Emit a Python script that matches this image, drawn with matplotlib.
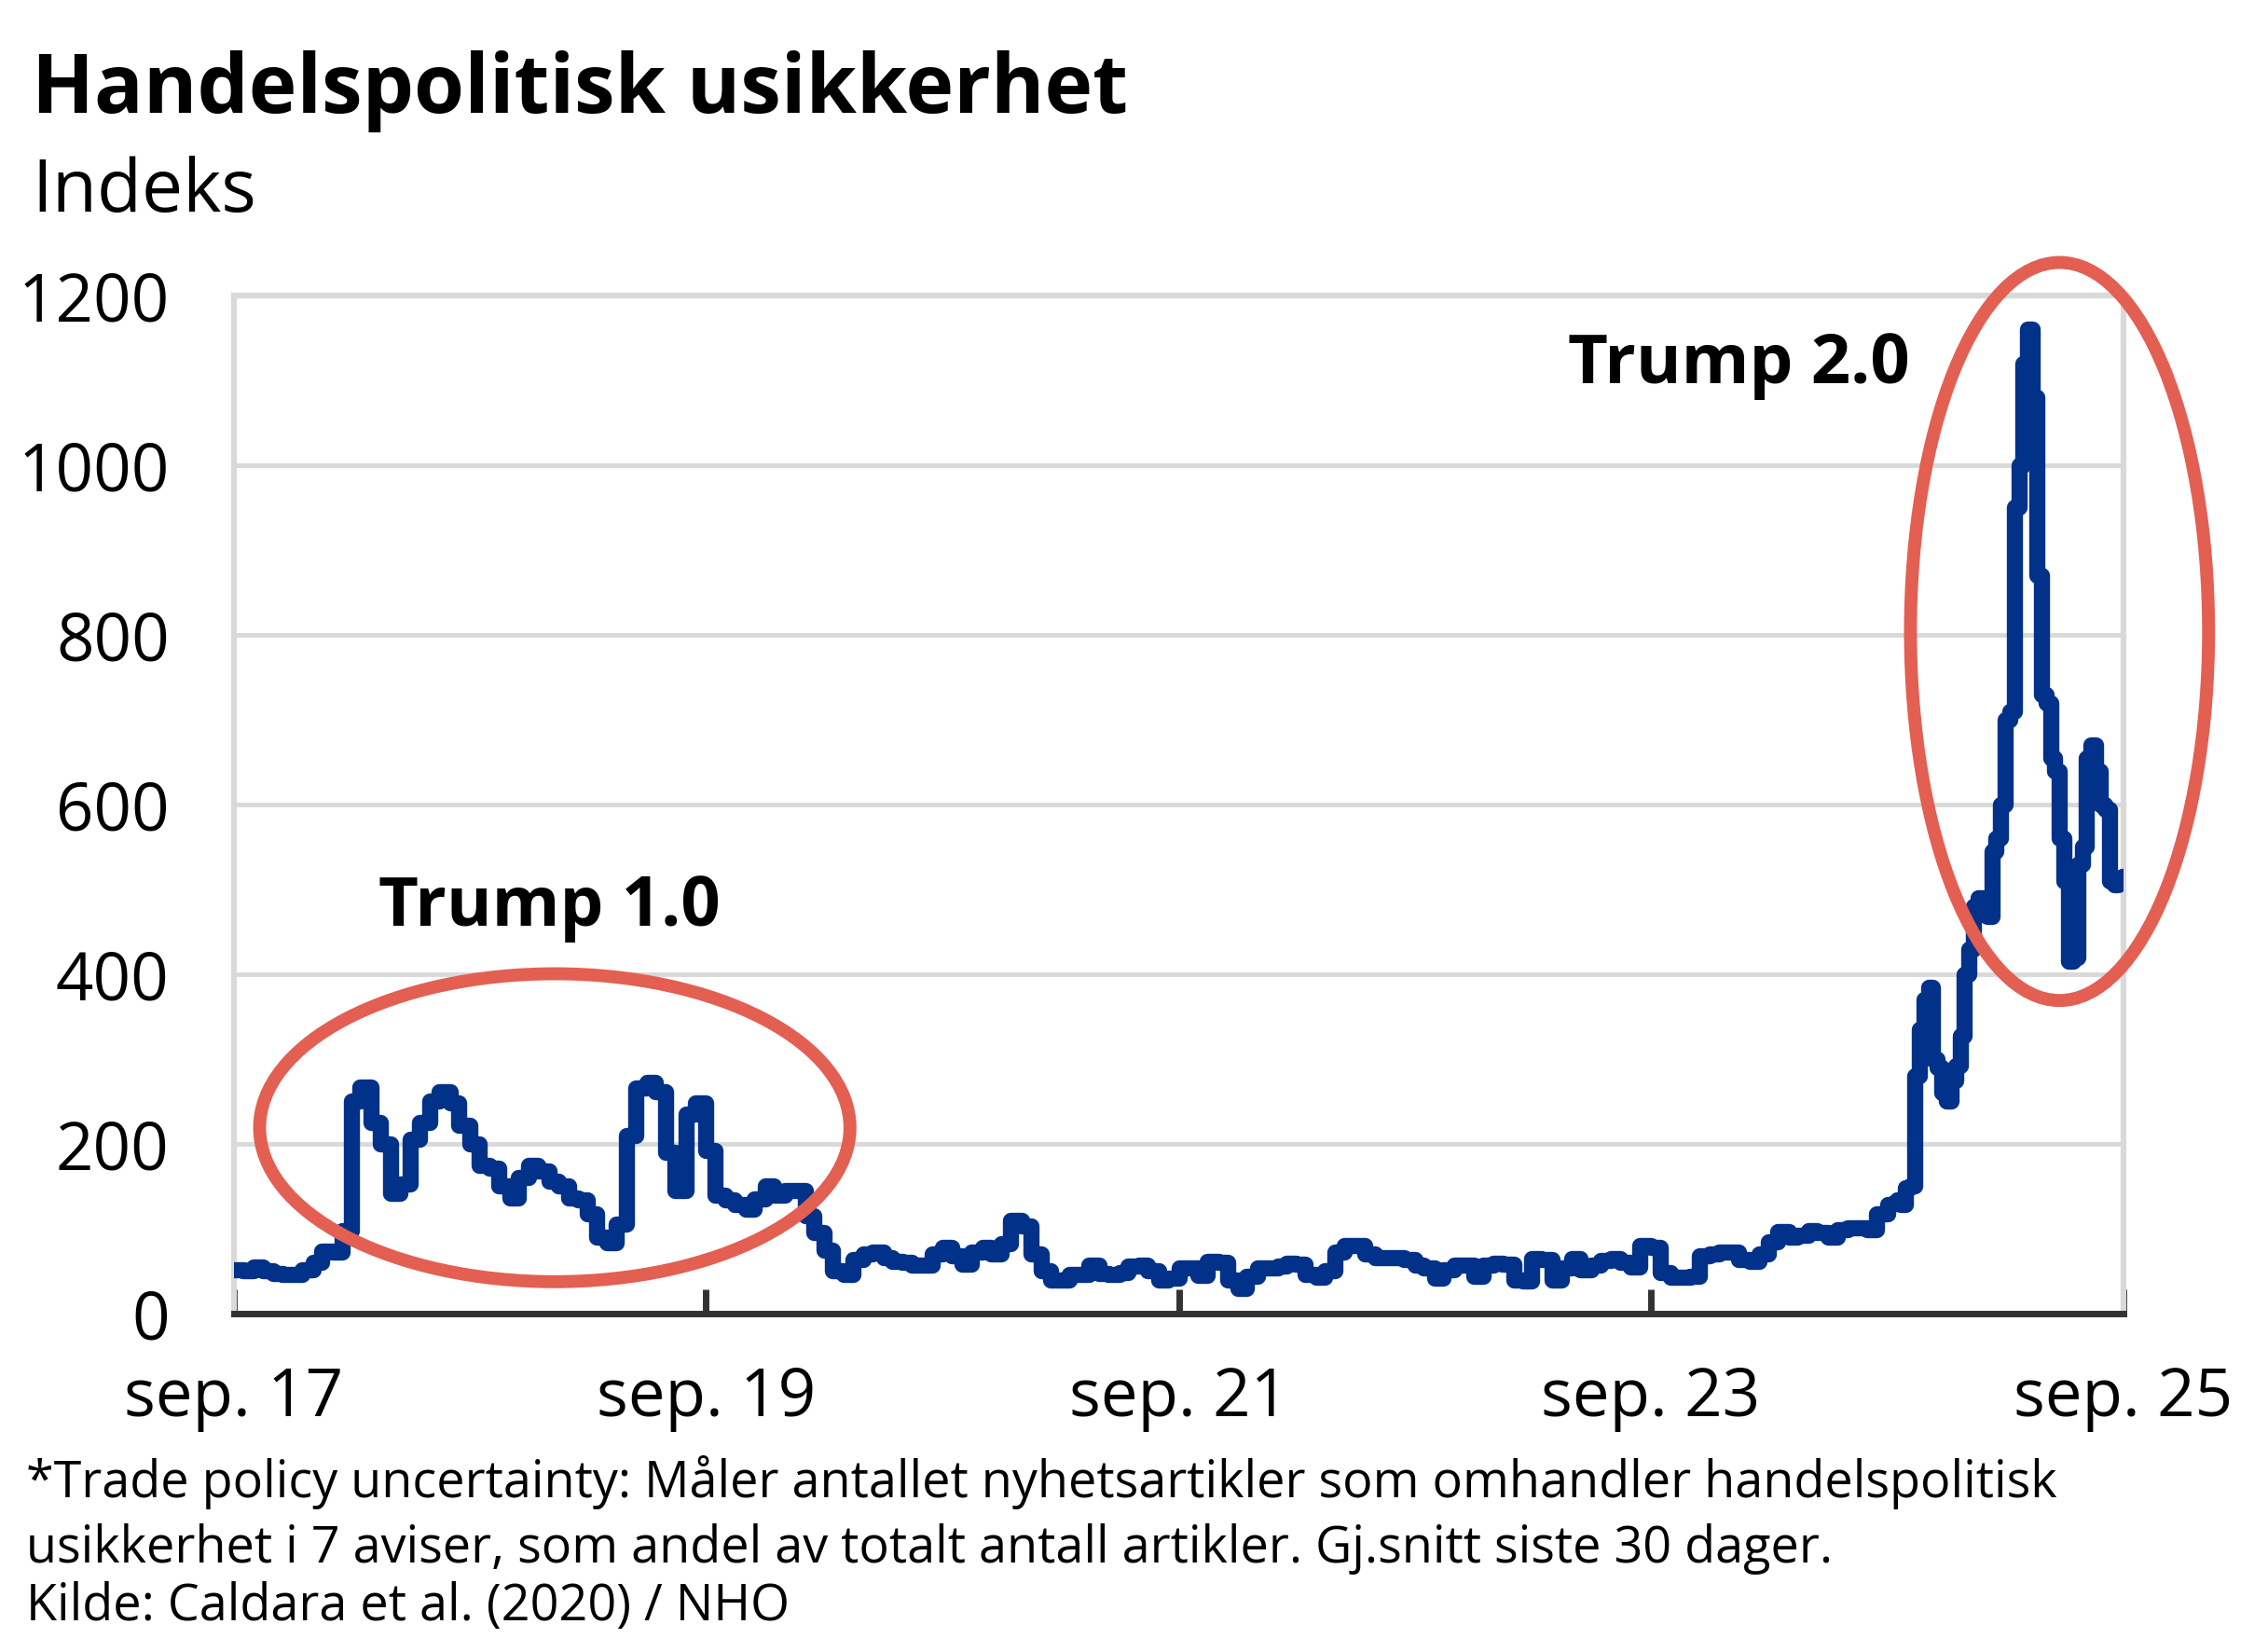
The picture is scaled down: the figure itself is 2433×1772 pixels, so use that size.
import numpy as np
import pandas as pd
import matplotlib
matplotlib.use("Agg")
import matplotlib.pyplot as plt
import matplotlib.dates as mdates
from matplotlib.patches import Ellipse

plt.rcParams['font.family'] = ['Open Sans', 'DejaVu Sans']

# halvmånedlige verdier sep. 2017 - aug. 2024
verdier_a = [52, 50, 55, 50, 47, 46, 46, 52, 60, 74,
             72, 98, 250, 267, 225, 200, 142, 153, 205, 225,
             251, 262, 248, 222, 200, 175, 171, 150, 136, 160,
             175, 168, 156, 150, 136, 134, 118, 90, 83, 105,
             210, 266, 273, 262, 190, 145, 235, 248, 192, 140,
             134, 128, 123, 135, 150, 140, 145, 145, 115, 95,
             75, 50, 46, 64, 70, 72, 66, 62, 60, 57,
             57, 70, 78, 68, 58, 72, 78, 70, 82, 110,
             103, 70, 50, 40, 39, 46, 46, 57, 47, 46,
             48, 56, 57, 50, 39, 42, 54, 54, 45, 62,
             60, 40, 30, 44, 54, 54, 56, 59, 58, 46,
             43, 50, 72, 80, 80, 70, 66, 66, 66, 64,
             57, 54, 42, 52, 57, 57, 44, 57, 59, 58,
             40, 38, 65, 64, 40, 54, 65, 52, 57, 63,
             65, 60, 55, 80, 78, 48, 43, 43, 44, 68,
             70, 72, 72, 64, 62, 70, 85, 97, 90, 92,
             98, 95, 90, 99, 101, 101, 99, 118]
# ukentlige verdier sep. 2024 - aug. 2025
verdier_b = [128, 130, 134, 128, 148, 150, 280, 335, 370, 385,
             300, 290, 260, 250, 275, 292, 327, 400, 430, 480,
             490, 470, 468, 545, 560, 600, 700, 710, 950, 1000,
             1120, 1160, 1080, 870, 730, 720, 655, 640, 560, 510,
             415, 420, 530, 550, 655, 670, 640, 600, 595, 510,
             505, 510, 515]

datoer_a = pd.date_range('2017-09-01', periods=len(verdier_a), freq='SMS')
datoer_b = pd.date_range('2024-09-01', periods=len(verdier_b), freq='7D')
datoer = datoer_a.append(datoer_b)
verdier = verdier_a + verdier_b

xticks = pd.to_datetime(['2017-09-01', '2019-09-01', '2021-09-01', '2023-09-01', '2025-09-01'])
xlabels = ['sep. 17', 'sep. 19', 'sep. 21', 'sep. 23', 'sep. 25']
yticks = [0, 200, 400, 600, 800, 1000, 1200]

blaa = '#02318A'
roed = '#E35F52'
graa = '#D9D9D9'

fig = plt.figure(figsize=(24.33, 17.72), dpi=100)
ax = fig.add_axes([0.1032, 0.2049, 0.8331, 0.6162])

ax.plot(datoer, verdier, color=blaa, lw=12.5, drawstyle='steps-post',
        solid_joinstyle='round', solid_capstyle='round', zorder=3)

ax.set_xlim(xticks[0], xticks[-1])
ax.set_ylim(0, 1200)
ax.set_yticks(yticks)
ax.set_xticks(xticks)
ax.set_xticklabels(xlabels)
ax.grid(axis='y', color=graa, lw=3.5, zorder=0)
ax.tick_params(axis='y', length=0, pad=50, labelsize=51)
ax.tick_params(axis='x', direction='in', length=19, width=5, color='#333333',
               pad=40, labelsize=51)

for s in ['left', 'right', 'top']:
    ax.spines[s].set_color(graa)
    ax.spines[s].set_linewidth(4.5)
ax.spines['bottom'].set_color('#333333')
ax.spines['bottom'].set_linewidth(5)

# ellipser rundt periodene
e1 = Ellipse((mdates.date2num(pd.Timestamp('2019-01-10')), 219), width=913, height=363,
             fill=False, edgecolor=roed, lw=10, clip_on=False, zorder=4)
e2 = Ellipse((mdates.date2num(pd.Timestamp('2025-05-25')), 804), width=461, height=870,
             fill=False, edgecolor=roed, lw=10, clip_on=False, zorder=4)
ax.add_patch(e1)
ax.add_patch(e2)

ax.text(pd.Timestamp('2019-01-01'), 457, 'Trump 1.0', ha='center', va='baseline',
        fontsize=53.5, fontweight='bold')
ax.text(pd.Timestamp('2024-01-15'), 1097, 'Trump 2.0', ha='center', va='baseline',
        fontsize=53.5, fontweight='bold')

fig.text(0.014, 0.9317, 'Handelspolitisk usikkerhet', fontsize=63, fontweight='bold',
         va='baseline')
fig.text(0.014, 0.8719, 'Indeks', fontsize=56.5, va='baseline')

fig.text(0.0115, 0.0937, '*Trade policy uncertainty: Måler antallet nyhetsartikler som omhandler handelspolitisk',
         fontsize=38.8, va='baseline')
fig.text(0.0115, 0.0542, 'usikkerhet i 7 aviser, som andel av totalt antall artikler. Gj.snitt siste 30 dager.',
         fontsize=38.8, va='baseline')
fig.text(0.0115, 0.0192, 'Kilde: Caldara et al. (2020) / NHO', fontsize=38.8, va='baseline')

fig.savefig('out.png', dpi=100)
